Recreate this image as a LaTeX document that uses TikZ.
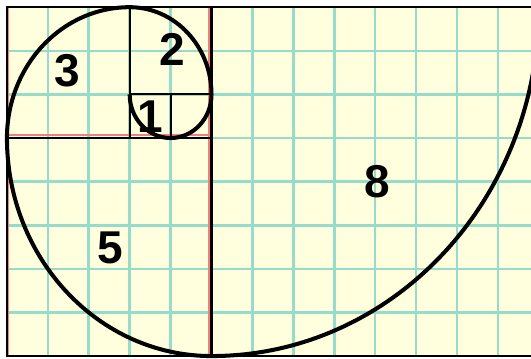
\documentclass[tikz,border=0pt]{standalone}
\usepackage{fontspec}
\setsansfont{Liberation Sans}
\usepackage{tikz}
\usetikzlibrary{positioning}
\definecolor{paper}{RGB}{255,255,221}
\definecolor{gridcyan}{RGB}{150,220,205}
\definecolor{majorred}{RGB}{240,128,128}

\begin{document}
\begin{tikzpicture}[
    yscale=1.066,
    gridline/.style={draw=gridcyan, line width=1.8pt},
    redline/.style={draw=majorred, line width=2pt},
    edge/.style={draw=black, line width=1.4pt},
    spiral/.style={draw=black, line width=2.8pt},
    num/.style={font=\sffamily\bfseries\fontsize{32}{32}\selectfont, inner sep=0pt}
]
\useasboundingbox (-0.17,-0.046) rectangle (12.81,8.165);
\clip (-0.17,-0.046) rectangle (12.81,8.165);

% ---- Paper ----
\fill[paper] (0,0) rectangle (13,8);
\draw[gridline] (0,0) grid (13,8);
\draw[redline] (0,5.07) -- (5,5.07);
\draw[redline] (4.94,0) -- (4.94,8);
\draw[redline] (0.02,0) -- (0.02,8);

% ---- Squares ----
\draw[edge] (0,0) rectangle (13,8);
\draw[edge] (5,0) -- (5,8);
\draw[edge] (0,5) -- (5,5);
\draw[edge] (3,5) -- (3,8);
\draw[edge] (3,6) -- (5,6);
\draw[edge] (4,5) -- (4,6);

% ---- Spiral ----
\draw[spiral] (3,6) arc[start angle=180, end angle=360, radius=1]
                    arc[start angle=0,   end angle=90,  radius=2]
                    arc[start angle=90,  end angle=180, radius=3]
                    arc[start angle=180, end angle=270, radius=5]
                    arc[start angle=270, end angle=360, radius=8];

% ---- Labels ----
\node[num] (n1) at (3.5,5.48)  {1};
\node[num] (n2) at (4.03,7.02) {2};
\node[num] (n3) at (1.47,6.54) {3};
\node[num] (n5) at (2.52,2.48) {5};
\node[num] (n8) at (9.05,3.99) {8};

\end{tikzpicture}
\end{document}
